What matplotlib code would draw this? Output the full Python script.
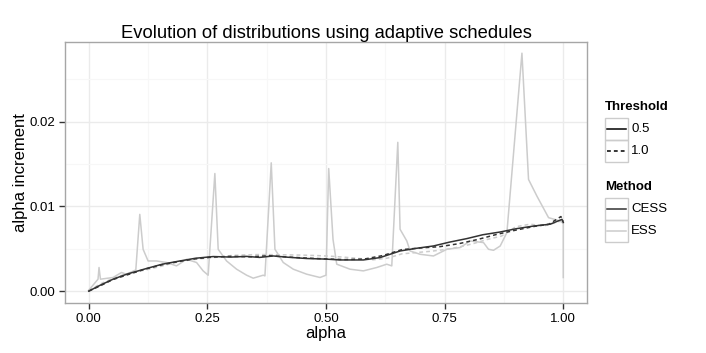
import matplotlib
matplotlib.use("Agg")
import matplotlib.pyplot as plt
from matplotlib.patches import Rectangle
from matplotlib.lines import Line2D

#---------------------------------------------------
# data
#---------------------------------------------------

# ESS, threshold 0.5 (the spiky grey line)
ess05_alpha = [0.000, 0.0196, 0.0217, 0.0247, 0.0513, 0.069, 0.0795, 0.0992, 0.1076,
               0.1146, 0.1251, 0.1428, 0.1639, 0.185, 0.2061, 0.2272, 0.2411, 0.2517,
               0.2658, 0.2728, 0.2905, 0.3116, 0.3327, 0.3466, 0.3677, 0.3713, 0.3846,
               0.3924, 0.4099, 0.431, 0.4593, 0.4873, 0.500, 0.5057, 0.5148, 0.5226,
               0.5506, 0.5787, 0.607, 0.628, 0.6386, 0.6513, 0.6561, 0.6703, 0.6772,
               0.6983, 0.7264, 0.7546, 0.7827, 0.8038, 0.8319, 0.8424, 0.853, 0.8671,
               0.8812, 0.9129, 0.9268, 0.9445, 0.969, 0.9937, 1.000, 1.000]
ess05_incr = [0.00010, 0.00141, 0.00279, 0.00141, 0.00161, 0.00220, 0.00200, 0.00250, 0.00906,
              0.00494, 0.00356, 0.00356, 0.00338, 0.00298, 0.00376, 0.00338, 0.00239, 0.00188,
              0.01388, 0.00494, 0.00356, 0.00259, 0.00188, 0.00153, 0.00188, 0.00180, 0.01514,
              0.00494, 0.00338, 0.00259, 0.00200, 0.00161, 0.00188, 0.01447, 0.00610, 0.00318,
              0.00259, 0.00239, 0.00279, 0.00318, 0.00298, 0.01756, 0.00730, 0.00592, 0.00474,
              0.00435, 0.00415, 0.00494, 0.00514, 0.00592, 0.00573, 0.00494, 0.00482, 0.00533,
              0.00691, 0.02808, 0.01318, 0.01121, 0.00867, 0.00827, 0.00800, 0.00161]

# ESS, threshold 1.0
ess10_alpha = [0.000, 0.03, 0.06, 0.09, 0.12, 0.15, 0.18, 0.21, 0.24, 0.27, 0.30, 0.33,
               0.36, 0.39, 0.42, 0.45, 0.48, 0.51, 0.54, 0.57, 0.60, 0.63, 0.66, 0.69,
               0.72, 0.75, 0.78, 0.81, 0.84, 0.87, 0.90, 0.93, 0.96, 0.99, 1.00]
ess10_incr = [0.00010, 0.00100, 0.00170, 0.00220, 0.00250, 0.00290, 0.00335, 0.00365, 0.00385,
              0.00400, 0.00420, 0.00428, 0.00432, 0.00430, 0.00428, 0.00425, 0.00420, 0.00412,
              0.00400, 0.00385, 0.00370, 0.00390, 0.00440, 0.00455, 0.00470, 0.00490, 0.00520,
              0.00560, 0.00610, 0.00650, 0.00760, 0.00790, 0.00770, 0.00820, 0.00830]

# CESS, threshold 0.5
cess05_alpha = [0.000, 0.025, 0.0513, 0.08, 0.1217, 0.155, 0.192, 0.225, 0.2622, 0.30,
                0.3327, 0.36, 0.3888, 0.42, 0.4593, 0.50, 0.5295, 0.5787, 0.6139, 0.6561,
                0.69, 0.7264, 0.76, 0.7968, 0.83, 0.8671, 0.9023, 0.9373, 0.9726,
                0.9973, 1.000]
cess05_incr = [0.00000, 0.00072, 0.00141, 0.00200, 0.00267, 0.00318, 0.00356, 0.00388, 0.00408,
               0.00402, 0.00410, 0.00398, 0.00415, 0.00400, 0.00385, 0.00378, 0.00368, 0.00368,
               0.00396, 0.00474, 0.00505, 0.00533, 0.00578, 0.00620, 0.00665, 0.00698, 0.00738,
               0.00768, 0.00790, 0.00847, 0.00810]

# CESS, threshold 1.0
cess10_alpha = [0.000, 0.025, 0.05, 0.08, 0.12, 0.155, 0.19, 0.225, 0.26, 0.30, 0.34,
                0.38, 0.42, 0.46, 0.50, 0.54, 0.58, 0.62, 0.66, 0.70, 0.74, 0.78, 0.82,
                0.86, 0.90, 0.94, 0.97, 0.995, 1.000]
cess10_incr = [0.00000, 0.00065, 0.00135, 0.00190, 0.00262, 0.00312, 0.00350, 0.00382, 0.00402,
               0.00410, 0.00405, 0.00418, 0.00402, 0.00390, 0.00380, 0.00372, 0.00378, 0.00420,
               0.00490, 0.00510, 0.00525, 0.00560, 0.00610, 0.00670, 0.00720, 0.00765, 0.00790,
               0.00880, 0.00820]

x_ticks = [0.0, 0.25, 0.5, 0.75, 1.0]
y_ticks = [0.0, 0.01, 0.02]

#---------------------------------------------------
# plot
#---------------------------------------------------

plt.rcParams['font.family'] = ['Liberation Sans', 'DejaVu Sans']

dark = '#333333'
light = '#cccccc'
lw = 1.1
dash = (0, (2.5, 2))

fig = plt.figure(figsize=(7.06, 3.53), dpi=100)
ax = fig.add_axes([65 / 706, 1 - 303 / 353, (587 - 65) / 706, (303 - 42) / 353])

ax.plot(ess05_alpha, ess05_incr, color=light, lw=lw, ls='-')
ax.plot(ess10_alpha, ess10_incr, color=light, lw=lw, ls=dash)
ax.plot(cess05_alpha, cess05_incr, color=dark, lw=lw, ls='-')
ax.plot(cess10_alpha, cess10_incr, color=dark, lw=lw, ls=dash)

ax.set_xlim(-0.05, 1.05)
ax.set_ylim(-0.0014, 0.0294)
ax.set_xticks(x_ticks)
ax.set_xticklabels(['0.00', '0.25', '0.50', '0.75', '1.00'])
ax.set_yticks(y_ticks)
ax.set_yticklabels(['0.00', '0.01', '0.02'])
ax.set_xticks([0.125, 0.375, 0.625, 0.875], minor=True)
ax.set_yticks([0.005, 0.015, 0.025], minor=True)
ax.tick_params(axis='both', which='major', length=4, width=1, color='#333333',
               labelsize=9.5, labelcolor='black', pad=3)
ax.tick_params(axis='both', which='minor', length=0)
ax.grid(True, which='major', color='#ebebeb', lw=1.0)
ax.grid(True, which='minor', color='#f7f7f7', lw=0.8)
ax.set_axisbelow(True)
for sp in ax.spines.values():
    sp.set_color('#a6a6a6')
    sp.set_linewidth(1.0)

ax.set_xlabel('alpha', fontsize=12, labelpad=1)
ax.set_ylabel('alpha increment', fontsize=12, labelpad=1)
ax.set_title('Evolution of distributions using adaptive schedules', fontsize=13.2, pad=3)

# legend drawn by hand in pixel coordinates, ggplot style keys
lg = fig.add_axes([0, 0, 1, 1], facecolor='none')
lg.set_xlim(0, 706)
lg.set_ylim(353, 0)
lg.axis('off')

def key(y0, color, ls, label):
    lg.add_patch(Rectangle((605, y0), 23, 22, fill=False, edgecolor='#cccccc', lw=1))
    lg.add_line(Line2D([607, 626], [y0 + 11, y0 + 11], color=color, lw=lw, ls=ls))
    lg.text(631, y0 + 11, label, fontsize=9.5, va='center', ha='left')

lg.text(605, 107, 'Threshold', fontsize=9.5, fontweight='bold', va='center', ha='left')
key(118, 'black', '-', '0.5')
key(140, 'black', dash, '1.0')
lg.text(605, 187, 'Method', fontsize=9.5, fontweight='bold', va='center', ha='left')
key(198, dark, '-', 'CESS')
key(220, light, '-', 'ESS')

fig.savefig('out.png', dpi=100)
